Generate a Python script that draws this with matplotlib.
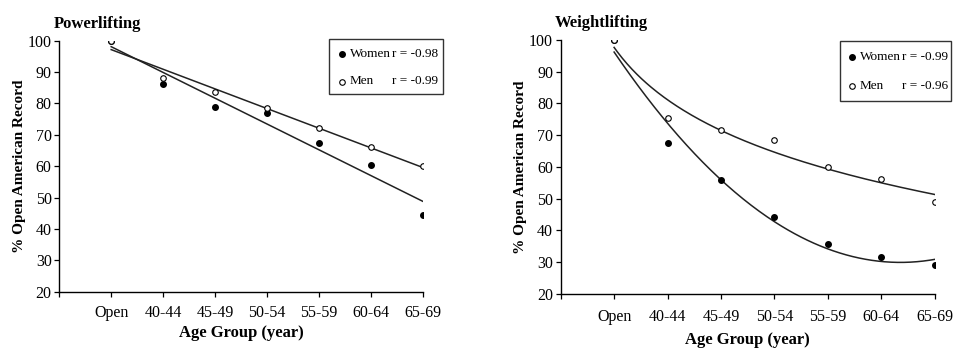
import numpy as np
import matplotlib
matplotlib.use("Agg")
import matplotlib.pyplot as plt
from matplotlib.patches import Rectangle

plt.rcParams['font.family'] = ['Liberation Serif', 'DejaVu Serif']

age_groups = ["Open", "40-44", "45-49", "50-54", "55-59", "60-64", "65-69"]

# Powerlifting: % of open American record
power_women = [100, 86.2, 79.0, 76.8, 67.3, 60.5, 44.5]
power_men = [100, 88.0, 83.7, 78.5, 72.3, 66.2, 60.0]
power_r = {"women": -0.98, "men": -0.99}

# Weightlifting: % of open American record
weight_women = [100, 67.5, 55.8, 44.3, 35.7, 31.6, 29.1]
weight_men = [100, 75.3, 71.7, 68.4, 60.1, 56.2, 48.9]
weight_r = {"women": -0.99, "men": -0.96}

x = np.arange(1, len(age_groups) + 1)
xs = np.linspace(1, len(age_groups), 200)

W, H = 956, 350
line_kw = dict(color="#222222", lw=1.1, zorder=2)
women_kw = dict(marker="o", ms=4.0, mfc="black", mec="black", ls="none", zorder=3)
men_kw = dict(marker="o", ms=4.0, mfc="white", mec="black", mew=0.8, ls="none", zorder=4)

fig = plt.figure(figsize=(W / 100, H / 100), dpi=100)
ax1 = fig.add_axes([0.062, 0.166, 0.380, 0.718])
ax2 = fig.add_axes([0.5865, 0.160, 0.3912, 0.726])


def style_axis(ax, title, xlabel_pad, xtick_pad):
    ax.set_xlim(0, len(age_groups))
    ax.set_ylim(20, 100)
    ax.set_yticks(np.arange(20, 101, 10))
    ax.set_xticks(np.arange(0, len(age_groups) + 1))
    ax.set_xticklabels([""] + age_groups)
    for s in ("top", "right"):
        ax.spines[s].set_visible(False)
    for s in ("left", "bottom"):
        ax.spines[s].set_linewidth(1.0)
    ax.tick_params(direction="out", length=3.5, width=0.9, labelsize=11.5, pad=2)
    ax.tick_params(axis="x", pad=xtick_pad)
    ax.set_xlabel("Age Group (year)", fontsize=12, fontweight="bold", labelpad=xlabel_pad)
    ax.set_ylabel("% Open American Record", fontsize=11, fontweight="bold", labelpad=1.5)
    ax.text(-0.015, 1.035, title, transform=ax.transAxes, fontsize=12,
            fontweight="bold", ha="left", va="bottom")


def px(xp, yp):
    """Pixel position (from top-left) to figure fraction."""
    return xp / W, 1 - yp / H


def add_key(r_vals, box, marker_x, text_x0, text_x1, rows):
    """Boxed key: marker, group name and correlation for each sex."""
    x0, y0 = px(box[0], box[3])
    x1, y1 = px(box[2], box[1])
    fig.patches.append(Rectangle((x0, y0), x1 - x0, y1 - y0, transform=fig.transFigure,
                                 facecolor="white", edgecolor="#333333", lw=1.0,
                                 zorder=5))
    entries = [("Women", r_vals["women"], women_kw), ("Men", r_vals["men"], men_kw)]
    for (name, r, kw), ry in zip(entries, rows):
        mx, my = px(marker_x, ry)
        fig.add_artist(plt.Line2D([mx], [my], transform=fig.transFigure,
                                  **{**kw, "zorder": 6}))
        tx, ty = px(text_x0, ry)
        fig.text(tx, ty, name, fontsize=9.5, ha="left", va="center", zorder=6)
        tx, ty = px(text_x1, ry)
        fig.text(tx, ty, f"r = {r:.2f}", fontsize=9.5, ha="right", va="center", zorder=6)


# Powerlifting: linear trends
style_axis(ax1, "Powerlifting", 3, 6)
for y in (power_women, power_men):
    coef = np.polyfit(x, y, 1)
    ax1.plot(xs, np.polyval(coef, xs), **line_kw)
ax1.plot(x, power_women, **women_kw)
ax1.plot(x, power_men, **men_kw)
add_key(power_r, (329, 39.3, 443.3, 94), 341.7, 350, 438.5, (54, 81.5))

# Weightlifting: quadratic trend for women, logarithmic trend for men
style_axis(ax2, "Weightlifting", 5, 7)
cw = np.polyfit(x, weight_women, 2)
ax2.plot(xs, np.polyval(cw, xs), **line_kw)
cm = np.polyfit(np.log(x), weight_men, 1)
ax2.plot(xs, np.polyval(cm, np.log(xs)), **line_kw)
ax2.plot(x, weight_women, **women_kw)
ax2.plot(x, weight_men, **men_kw)
add_key(weight_r, (839.7, 41, 951, 100.7), 851.7, 860, 948, (57.3, 86))

fig.savefig("out.png", dpi=100)
